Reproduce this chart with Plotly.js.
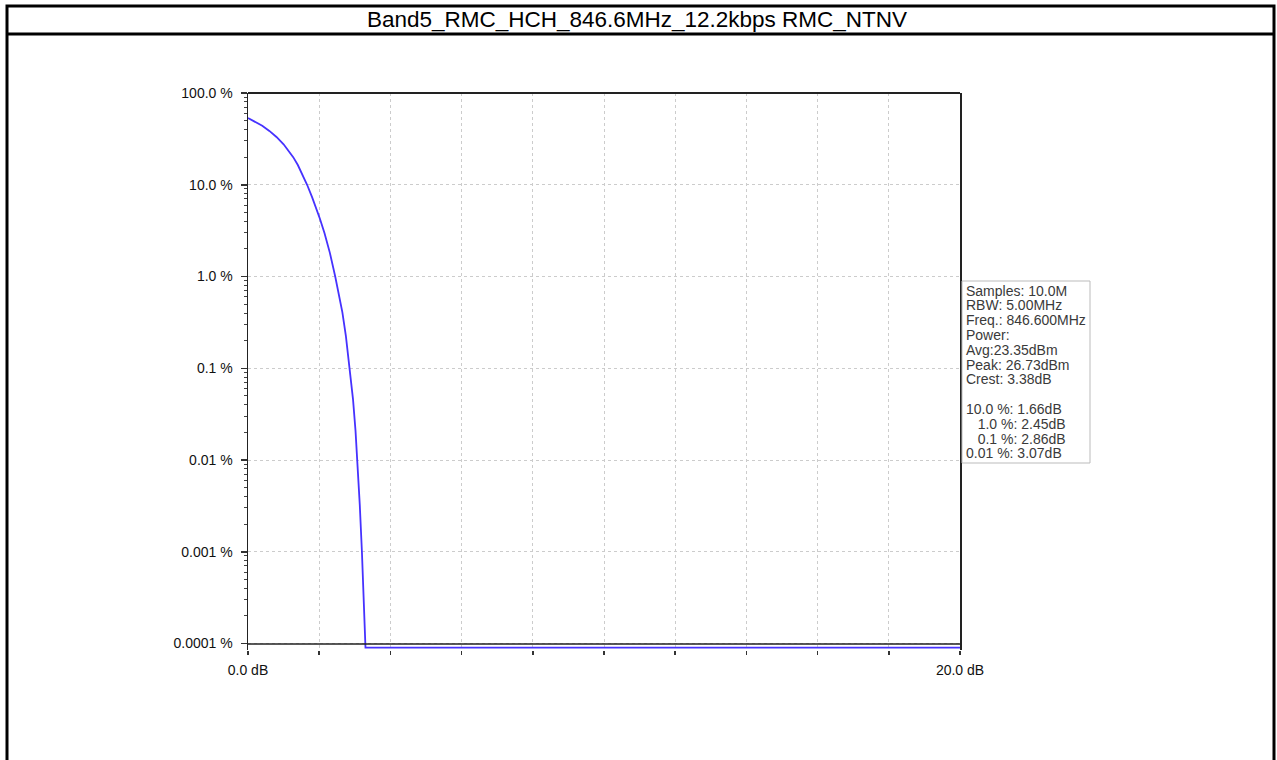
<!DOCTYPE html>
<html>
<head>
<meta charset="utf-8">
<script src="https://cdn.plot.ly/plotly-3.0.1.min.js"></script>
<style>
html,body{margin:0;padding:0;background:#fff;}
#chart{width:1277px;height:760px;}
</style>
</head>
<body>
<div id="chart"></div>
<script>
// ---- data (CCDF: power above average in dB vs probability in %) ----
const dbValues  = [0, 0.2, 0.4, 0.6, 0.8, 1.0, 1.13, 1.27, 1.4, 1.55, 1.66, 1.8, 1.9, 2.02, 2.15, 2.30, 2.45,
                   2.55, 2.65, 2.75, 2.86, 2.95, 3.02, 3.07, 3.14, 3.20, 3.25, 3.28, 3.30, 20];
const pctValues = [53.3, 48.9, 44, 38.6, 33.2, 27.6, 23.6, 20.0, 16.4, 12.56, 10, 7.33, 5.78, 4.26, 2.96, 1.81, 1.0,
                   0.66, 0.41, 0.224, 0.1, 0.0457, 0.0209, 0.01, 0.00324, 0.001, 0.00032, 0.000126, 0.00009, 0.00009];

const yTickVals = [0.0001, 0.001, 0.01, 0.1, 1, 10, 100];
const yTickText = ['0.0001 %', '0.001 %', '0.01 %', '0.1 %', '1.0 %', '10.0 %', '100.0 %'];
const xTickVals = [0, 2, 4, 6, 8, 10, 12, 14, 16, 18, 20];
const xTickText = ['0.0 dB', '', '', '', '', '', '', '', '', '', '20.0 dB'];

const chartTitle = 'Band5_RMC_HCH_846.6MHz_12.2kbps RMC_NTNV';
const statsLines = [
  'Samples: 10.0M',
  'RBW: 5.00MHz',
  'Freq.: 846.600MHz',
  'Power:',
  'Avg:23.35dBm',
  'Peak: 26.73dBm',
  'Crest: 3.38dB',
  '',
  '10.0 %: 1.66dB',
  '\u00a0\u00a0\u00a01.0 %: 2.45dB',
  '\u00a0\u00a0\u00a00.1 %: 2.86dB',
  '0.01 %: 3.07dB'
];

// ---- layout helpers (pixel -> paper) ----
const L = 248, R = 960, T = 93, B = 650;
const px = x => (x - L) / (R - L);
const py = y => (B - y) / (B - T);

const minorVals = [];
for (let e = -4; e < 2; e++) for (let m = 2; m <= 9; m++) minorVals.push(m * Math.pow(10, e));

const fontFam = '"Liberation Sans", Arial, sans-serif';

const shapes = [
  {type:'rect', xref:'paper', yref:'paper', x0:px(7), x1:px(1274), y0:py(6), y1:py(820),
   line:{color:'#000', width:3}, layer:'above'},
  {type:'line', xref:'paper', yref:'paper', x0:px(7), x1:px(1274), y0:py(34), y1:py(34),
   line:{color:'#000', width:3}},
  {type:'line', xref:'paper', yref:'paper', x0:0, x1:1, y0:1, y1:1,
   line:{color:'#222', width:2}},
  {type:'line', xref:'paper', yref:'paper', x0:0, x1:1, y0:py(644), y1:py(644),
   line:{color:'#222', width:1.5}},
  {type:'rect', xref:'paper', yref:'paper', x0:px(962), x1:px(1090), y0:py(281), y1:py(463),
   line:{color:'#bbbbbb', width:1}, fillcolor:'rgba(255,255,255,0)'}
];

const annotations = statsLines.map((t, i) => ({
  text: t, xref:'paper', yref:'paper', x: px(964), y: py(290.5 + i * 14.8),
  xanchor:'left', yanchor:'middle', showarrow:false,
  font:{family: fontFam, size:14, color:'#3a3a3a'}
}));

const trace = {
  x: dbValues, y: pctValues, type:'scatter', mode:'lines',
  line:{color:'rgb(70,50,255)', width:1.8}, hoverinfo:'skip', cliponaxis:false
};

const layout = {
  width:1277, height:760,
  margin:{l:L, r:1277 - R, t:T, b:760 - B, pad:0},
  paper_bgcolor:'#fff', plot_bgcolor:'#fff',
  showlegend:false,
  title:{text: chartTitle, xref:'container', x: 637/1277, xanchor:'center', yref:'container', y: 1 - 19/760, yanchor:'middle',
         font:{family: fontFam, size:22.5, color:'#000'}},
  font:{family: fontFam, size:14, color:'#111'},
  xaxis:{
    range:[0, 20], showline:false, zeroline:false,
    tickmode:'array', tickvals:xTickVals, ticktext:xTickText,
    ticks:'outside', ticklen:4, tickwidth:1.5, tickcolor:'#333',
    showgrid:true, gridcolor:'#cccccc', griddash:'3px,3px', gridwidth:1,
    tickfont:{family: fontFam, size:14, color:'#111'},
    ticklabelstandoff:3
  },
  yaxis:{
    type:'log', range:[2 - (B - T) / 91.75, 2],
    showline:true, mirror:true, linecolor:'#222', linewidth:1.5, zeroline:false,
    tickmode:'array', tickvals:yTickVals, ticktext:yTickText,
    ticks:'outside', ticklen:6, tickwidth:1.5, tickcolor:'#333',
    showgrid:true, gridcolor:'#cccccc', griddash:'3px,3px', gridwidth:1,
    tickfont:{family: fontFam, size:14, color:'#111'},
    ticklabelstandoff:5,
    minor:{tickmode:'array', tickvals:minorVals, ticks:'outside', ticklen:3, tickwidth:1, tickcolor:'#444', showgrid:false}
  },
  shapes: shapes,
  annotations: annotations
};

Plotly.newPlot('chart', [trace], layout, {displayModeBar:false, staticPlot:true});
</script>
</body>
</html>
